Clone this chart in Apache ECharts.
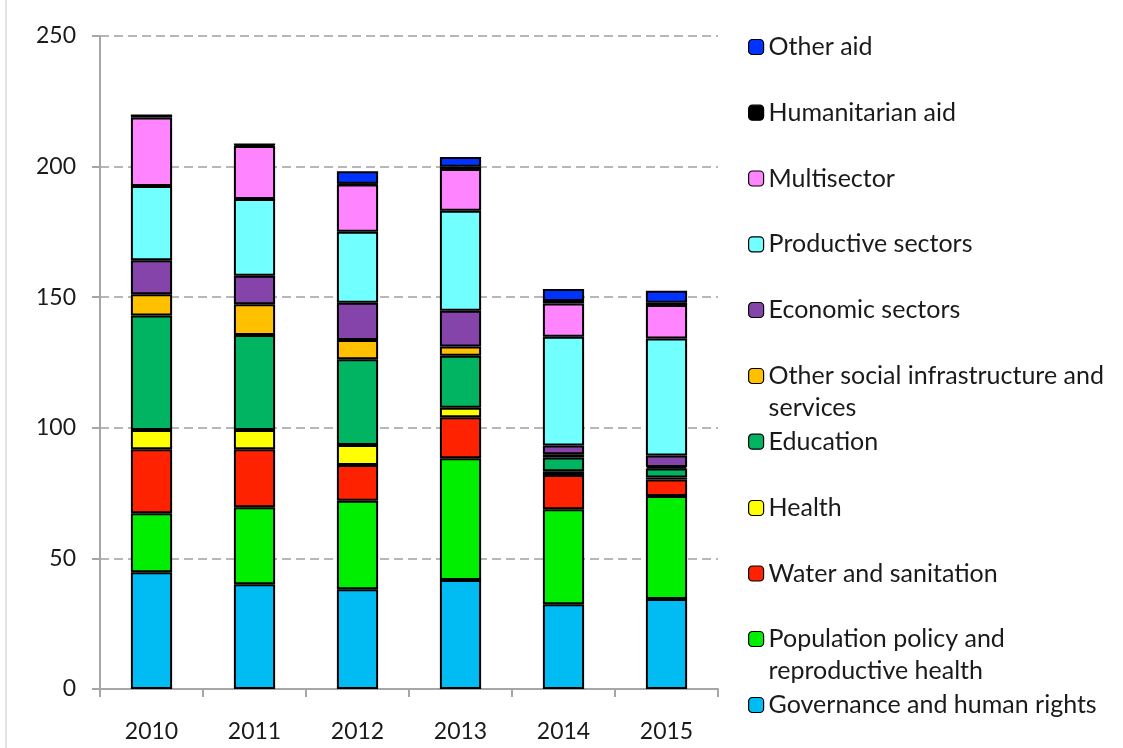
<!DOCTYPE html>
<html>
<head>
<meta charset="utf-8">
<script src="https://cdn.jsdelivr.net/npm/echarts@6/dist/echarts.min.js"></script>
<style>
html,body{margin:0;padding:0;background:#fff;}
#chart{width:1123px;height:748px;}
</style>
</head>
<body>
<div id="chart"></div>
<script>
const categories = ['2010', '2011', '2012', '2013', '2014', '2015'];
const yTicks = [0, 50, 100, 150, 200, 250];

const governance = [44.7, 40.1, 38.2, 41.7, 32.4, 34.5];
const population = [22.6, 29.5, 33.9, 46.6, 36.4, 39.4];
const water = [24.5, 22.2, 13.7, 15.7, 13.1, 6.3];
const health = [7.4, 7.4, 7.6, 3.7, 1.5, 0.8];
const education = [43.8, 36.3, 32.8, 19.9, 5.2, 3.4];
const otherSocial = [8.1, 11.8, 7.4, 3.5, 1.3, 0.6];
const economic = [13.0, 10.9, 14.3, 13.7, 3.3, 4.4];
const productive = [28.5, 29.4, 27.2, 38.3, 41.7, 44.8];
const multisector = [26.2, 20.3, 18.0, 16.0, 12.7, 12.8];
const humanitarian = [0.8, 0.6, 0.3, 0.8, 0.9, 0.9];
const otherAid = [0, 0, 4.8, 3.8, 4.6, 4.6];

const seriesNames = [
  'Governance and human rights',
  'Population policy and reproductive health',
  'Water and sanitation',
  'Health',
  'Education',
  'Other social infrastructure and services',
  'Economic sectors',
  'Productive sectors',
  'Multisector',
  'Humanitarian aid',
  'Other aid'
];
const legendLabels = [
  'Governance and human rights',
  'Population policy and\nreproductive health',
  'Water and sanitation',
  'Health',
  'Education',
  'Other social infrastructure and\nservices',
  'Economic sectors',
  'Productive sectors',
  'Multisector',
  'Humanitarian aid',
  'Other aid'
];
const seriesData = [governance, population, water, health, education, otherSocial, economic, productive, multisector, humanitarian, otherAid];
const colors = ['#00BCF2', '#00EE00', '#FF2200', '#FFFF00', '#00B462', '#FFC000', '#8444AA', '#72FFFF', '#FF84FF', '#000000', '#0033FF'];

const FONT = 'Lato';
const LH = 32;
const legendCentres = [704, 638, 572.5, 507, 440.7, 375, 309, 243.3, 177.5, 111.7, 46];

const series = seriesNames.map((name, i) => ({
  name: name,
  type: 'bar',
  stack: 'total',
  barWidth: '40%',
  data: seriesData[i],
  itemStyle: { color: colors[i], borderColor: '#000', borderWidth: 2 },
  emphasis: { disabled: true }
}));

const legends = seriesNames.map((name, i) => {
  const twoLine = legendLabels[i].indexOf('\n') >= 0;
  return {
    data: [name],
    left: 743,
    top: legendCentres[i] - 4 - (twoLine ? 1.5 * LH : LH / 2),
    orient: 'vertical',
    itemWidth: 15,
    itemHeight: 15,
    selectedMode: false,
    formatter: () => (twoLine ? ' \n' : '') + legendLabels[i],
    textStyle: { fontFamily: FONT, fontSize: 25, color: '#1a1a1a', lineHeight: LH },
    itemStyle: { borderColor: '#000', borderWidth: 1.2 }
  };
});

const chart = echarts.init(document.getElementById('chart'), null, { renderer: 'canvas' });
chart.setOption({
  animation: false,
  backgroundColor: '#fff',
  grid: { left: 100, right: 405, top: 36, bottom: 59, containLabel: false },
  legend: legends,
  graphic: [{
    type: 'line', shape: { x1: 6, y1: 0, x2: 6, y2: 748 },
    style: { stroke: '#d8d8d8', lineWidth: 1.5 }
  }],
  xAxis: {
    type: 'category',
    data: categories,
    axisLine: { lineStyle: { color: '#a6a6a6', width: 2 } },
    axisTick: { show: true, length: 8, lineStyle: { color: '#a6a6a6', width: 2 } },
    axisLabel: { fontFamily: FONT, fontSize: 23, color: '#1a1a1a', margin: 31 }
  },
  yAxis: {
    type: 'value',
    min: yTicks[0], max: yTicks[yTicks.length - 1], interval: 50,
    axisLine: { show: true, lineStyle: { color: '#a6a6a6', width: 2 } },
    axisTick: { show: true, length: 8, lineStyle: { color: '#a6a6a6', width: 2 } },
    axisLabel: { fontFamily: FONT, fontSize: 23, color: '#1a1a1a', margin: 24 },
    splitLine: { show: true, lineStyle: { color: '#a0a0a0', width: 1.5, type: [9, 5] } }
  },
  series: series
});
</script>
</body>
</html>
